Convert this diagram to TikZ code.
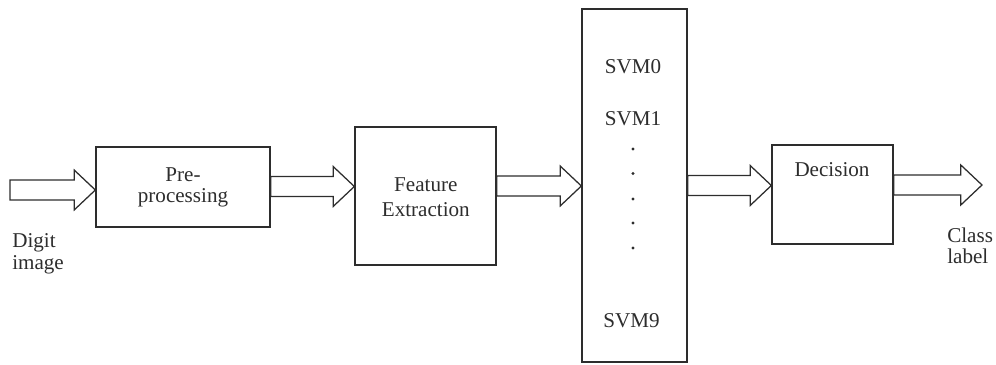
\documentclass[tikz,border=0pt]{standalone}
\usepackage{fontspec}
\setmainfont{Liberation Serif}
\usetikzlibrary{positioning,calc}
\tikzstyle{pipeline} = [x = .025cm, y = -.025cm, every node/.style={font=\fontsize{15}{15}\selectfont}]
\definecolor{inkColor}{RGB}{45,45,45}
\tikzstyle{blockStyle} = [draw=inkColor, line width=.9pt, inner sep=0pt]
\tikzstyle{arrowStyle} = [draw=inkColor, line width=.9pt, line join=miter]
\tikzstyle{labelText} = [text=inkColor, inner sep=0pt, align=center]
\tikzstyle{dotStyle} = [circle, fill=inkColor, inner sep=0pt, minimum size=2.4pt]
\newcommand{\arrowShaft}{.25cm}
\newcommand{\arrowHead}{.5cm}
\newcommand{\arrowHeadLength}{.53cm}
\newcommand{\blockArrow}[3]{\draw [arrowStyle] let \p1 = (#1), \p2 = (#2), \p3 = (0,#3) in (\x1, \y3 + \arrowShaft) -- (\x2 - \arrowHeadLength, \y3 + \arrowShaft) -- (\x2 - \arrowHeadLength, \y3 + \arrowHead) -- (\x2, \y3) -- (\x2 - \arrowHeadLength, \y3 - \arrowHead) -- (\x2 - \arrowHeadLength, \y3 - \arrowShaft) -- (\x1, \y3 - \arrowShaft) -- cycle;}

\begin{document}
\begin{tikzpicture}[pipeline]
  \useasboundingbox (0,0) rectangle (996,365);

  % blocks
  \node [blockStyle, minimum width = 4.35cm, minimum height = 2cm] (pre) at (183,187) {};
  \node [blockStyle, minimum width = 3.525cm, minimum height = 3.45cm] (feat) at (425.5,196) {};
  \node [blockStyle, minimum width = 2.625cm, minimum height = 8.825cm] (svm) at (634.5,185.5) {};
  \node [blockStyle, minimum width = 3.025cm, minimum height = 2.475cm] (dec) at (832.5,194.5) {};

  % block texts
  \node [labelText] (preText) at (183,187.6) {Pre-\\processing};
  \node [labelText] (featText) at (425.8,197.5) {Feature\\[3pt]Extraction};
  \node [labelText] (decText) at (832,170) {Decision};
  \node [labelText] (svm0) at (633,66.5) {SVM0};
  \node [labelText] (svm1) at (633,118.5) {SVM1};
  \node [labelText] (svm9) at (631.5,320.5) {SVM9};
  \foreach \dotY [count=\i] in {149,173.5,199,223,248} {
    \node [dotStyle] (dot\i) at (633,\dotY) {};
  }

  % input and output
  \coordinate (digitIn) at (10,190);
  \coordinate (classOut) at (982,185);
  \node [labelText, align=left, anchor=west] (digitText) at (12,254) {Digit\\[1pt]image};
  \node [labelText, align=left, anchor=west] (classText) at (947,245.5) {Class\\label};

  % arrows
  \blockArrow{digitIn}{pre.west}{190}
  \blockArrow{pre.east}{feat.west}{186.5}
  \blockArrow{feat.east}{svm.west}{186}
  \blockArrow{svm.east}{dec.west}{185.5}
  \blockArrow{dec.east}{classOut}{185}
\end{tikzpicture}
\end{document}
